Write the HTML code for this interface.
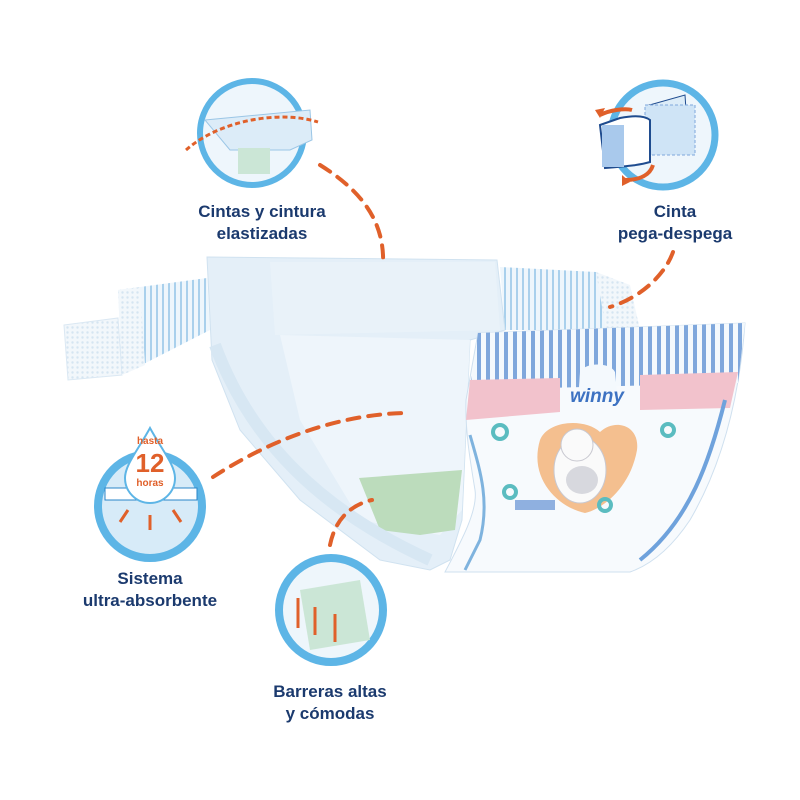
<!DOCTYPE html>
<html><head><meta charset="utf-8"><style>
body{margin:0;background:#fff;width:800px;height:800px;overflow:hidden;position:relative;font-family:"Liberation Sans",sans-serif}
.t{position:absolute;color:#1b3a6e;font-weight:bold;font-size:17px;text-align:center;line-height:22px;width:220px}
</style></head><body>
<svg width="800" height="800" style="position:absolute;left:0;top:0">
<defs>
<pattern id="st" width="6" height="8" patternUnits="userSpaceOnUse"><rect width="6" height="8" fill="#eef6fc"/><rect width="2" height="8" fill="#a9d0ec"/></pattern>
<pattern id="st2" width="9" height="10" patternUnits="userSpaceOnUse"><rect width="9" height="10" fill="#f4f9fd"/><rect width="4" height="10" fill="#7fa7dc"/></pattern>
<pattern id="hx" width="5" height="5" patternUnits="userSpaceOnUse"><rect width="5" height="5" fill="#f2f7fb"/><circle cx="2.5" cy="2.5" r="1.2" fill="#d5e5f2"/></pattern>
</defs>
<!-- side tabs -->
<path d="M64 325 L118 318 L122 375 L68 380 Z" fill="url(#hx)" stroke="#dbe8f3"/>
<path d="M118 290 L207 278 L210 330 L122 375 Z" fill="url(#st)"/>
<path d="M118 290 L140 287 L145 365 L122 375 Z" fill="url(#hx)"/>
<path d="M500 267 L596 272 L610 330 L505 330 Z" fill="url(#st)"/>
<path d="M596 272 L630 285 L640 330 L606 330 Z" fill="url(#hx)"/>
<!-- back body -->
<path d="M207 257 L497 260 L505 330 L470 340 L462 520 L450 560 L430 570 L380 560 L300 500 L240 430 L212 360 Z" fill="#e4eff8" stroke="#d0e2f0"/>
<path d="M270 262 L495 262 L500 330 L275 335 Z" fill="#e9f2f9"/>
<path d="M280 335 L470 340 L462 510 L440 535 L360 520 L300 420 Z" fill="#eef5fb"/>
<path d="M359 478 L462 470 L455 530 L420 535 L380 530 Z" fill="#bcdcbc"/>
<path d="M215 345 C250 440 320 510 430 560" stroke="#d7e7f3" stroke-width="12" fill="none"/>
<!-- front panel -->
<path d="M478 333 L745 323 C740 390 725 460 690 520 C670 550 650 565 630 572 L445 572 C462 540 478 510 475 490 C470 460 465 430 466 400 Z" fill="#f7fafd" stroke="#cfe0ef"/>
<path d="M478 333 L745 323 L738 383 L470 390 Z" fill="url(#st2)"/>
<path d="M470 380 L560 378 L560 412 L466 420 Z" fill="#f2c2cc"/>
<path d="M640 375 L738 372 L730 408 L640 410 Z" fill="#f2c2cc"/>
<path d="M580 372 C585 362 610 362 615 372 L618 402 L578 402 Z" fill="#f4f9fd"/>
<text x="597" y="402" text-anchor="middle" font-family="Liberation Sans" font-weight="bold" font-size="19" fill="#3d72c2" font-style="italic">winny</text>
<path d="M540 440 C548 420 585 418 600 432 C615 418 640 425 637 450 C630 490 600 510 585 513 C560 508 528 480 540 440 Z" fill="#f4bf8f"/>
<ellipse cx="580" cy="470" rx="26" ry="33" fill="#fafafa" stroke="#c8c8d0"/>
<ellipse cx="582" cy="480" rx="16" ry="14" fill="#d7d8de"/>
<circle cx="577" cy="445" r="16" fill="#fafafa" stroke="#c8c8d0"/>
<rect x="515" y="500" width="40" height="10" fill="#8fb0e0"/>
<circle cx="500" cy="432" r="7" fill="none" stroke="#5bbcc0" stroke-width="4"/>
<circle cx="668" cy="430" r="6" fill="none" stroke="#5bbcc0" stroke-width="4"/>
<circle cx="510" cy="492" r="6" fill="none" stroke="#5bbcc0" stroke-width="4"/>
<circle cx="605" cy="505" r="6" fill="none" stroke="#5bbcc0" stroke-width="4"/>
<path d="M470 435 C480 470 490 500 480 540 L465 570" stroke="#7fb3de" stroke-width="3" fill="none"/>
<path d="M725 400 C710 460 690 520 640 560" stroke="#6fa2dc" stroke-width="4" fill="none"/>
<!-- circles -->
<circle cx="252" cy="133" r="52" fill="#eef6fc" stroke="#5db5e6" stroke-width="6"/>
<path d="M205 120 L310 110 L312 140 L290 150 L230 150 Z" fill="#dcecf8" stroke="#9bc6e6"/>
<rect x="238" y="148" width="32" height="26" fill="#cbe6d6"/>
<path d="M186 150 C220 120 280 110 318 122" stroke="#e0602a" stroke-width="3" stroke-dasharray="5 3" fill="none"/>
<circle cx="663" cy="135" r="52" fill="#eef6fc" stroke="#5db5e6" stroke-width="7"/>
<path d="M646 106 L685 95 L686 110 L650 115 Z" fill="#dcecf8" stroke="#1f4c8f"/>
<rect x="645" y="105" width="50" height="50" fill="#cfe4f6" stroke="#7fa7dc" stroke-dasharray="3 2"/>
<path d="M600 125 L620 118 C635 115 645 116 650 120 L650 162 C640 165 630 166 605 168 Z" fill="#fff" stroke="#1f4c8f" stroke-width="2"/>
<rect x="602" y="125" width="22" height="42" fill="#a9c9ec"/>
<path d="M632 110 C625 108 610 110 600 115" stroke="#e0602a" stroke-width="4" fill="none"/>
<path d="M595 110 L605 108 L600 118 Z" fill="#e0602a"/>
<path d="M653 165 C650 175 640 180 625 180" stroke="#e0602a" stroke-width="4" fill="none"/>
<path d="M622 175 L630 182 L622 186 Z" fill="#e0602a"/>
<circle cx="150" cy="506" r="52" fill="#d7ebf8" stroke="#5db5e6" stroke-width="8"/>
<rect x="105" y="488" width="92" height="12" fill="#fff" stroke="#2a86c8"/>
<path d="M150 428 C138 450 125 465 125 478 A25 25 0 0 0 175 478 C175 465 162 450 150 428 Z" fill="#fff" stroke="#5db5e6" stroke-width="2"/>
<text x="150" y="444" text-anchor="middle" font-family="Liberation Sans" font-weight="bold" font-size="10" fill="#e0602a">hasta</text>
<text x="150" y="472" text-anchor="middle" font-family="Liberation Sans" font-weight="bold" font-size="26" fill="#e0602a">12</text>
<text x="150" y="486" text-anchor="middle" font-family="Liberation Sans" font-weight="bold" font-size="10" fill="#e0602a">horas</text>
<g stroke="#e0602a" stroke-width="3" fill="none"><path d="M150 515 v15"/><path d="M128 510 l-8 12"/><path d="M173 510 l8 12"/></g>
<circle cx="331" cy="610" r="52" fill="#eef6fb" stroke="#5db5e6" stroke-width="8"/>
<path d="M300 590 L360 580 L370 640 L310 650 Z" fill="#cbe6d6"/>
<g stroke="#e0602a" stroke-width="3" fill="none"><path d="M298 628 v-30"/><path d="M315 635 v-28"/><path d="M335 642 v-28"/></g>
<!-- dashed connectors -->
<g stroke="#e0602a" stroke-width="4" stroke-dasharray="12 9" fill="none" stroke-linecap="round">
<path d="M320 165 C360 190 385 220 383 265"/>
<path d="M673 252 C665 275 640 298 610 307"/>
<path d="M213 477 C270 440 340 413 410 413"/>
<path d="M330 545 C335 520 350 505 372 500"/>
</g>
</svg>
<div class="t" style="left:152px;top:201px">Cintas y cintura<br>elastizadas</div>
<div class="t" style="left:565px;top:201px">Cinta<br>pega-despega</div>
<div class="t" style="left:40px;top:568px">Sistema<br>ultra-absorbente</div>
<div class="t" style="left:220px;top:681px">Barreras altas<br>y cómodas</div>
</body></html>
